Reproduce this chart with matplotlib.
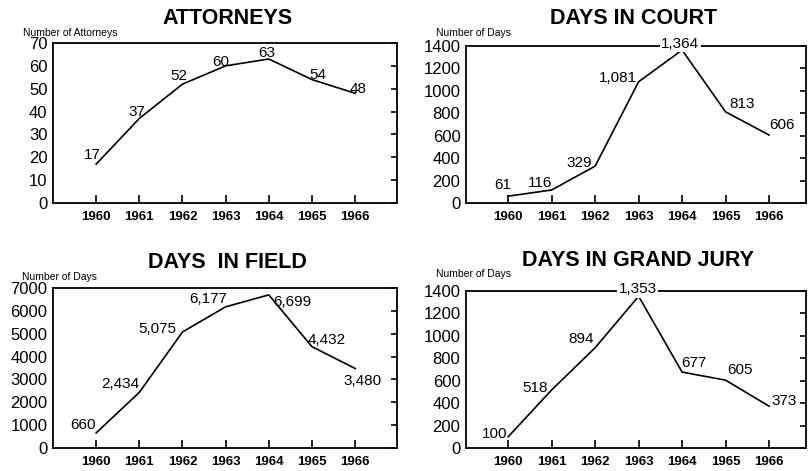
import matplotlib
matplotlib.use("Agg")
import matplotlib.pyplot as plt

plt.rcParams['font.family'] = ['Liberation Sans', 'DejaVu Sans']

years = [1960, 1961, 1962, 1963, 1964, 1965, 1966]

attorneys = [17, 37, 52, 60, 63, 54, 48]
days_court = [61, 116, 329, 1081, 1364, 813, 606]
days_field = [660, 2434, 5075, 6177, 6699, 4432, 3480]
days_jury = [100, 518, 894, 1353, 677, 605, 373]

attorney_ticks = [0, 10, 20, 30, 40, 50, 60, 70]
court_ticks = [0, 200, 400, 600, 800, 1000, 1200, 1400]
field_ticks = [0, 1000, 2000, 3000, 4000, 5000, 6000, 7000]
jury_ticks = [0, 200, 400, 600, 800, 1000, 1200, 1400]

W, H = 808, 471
fig = plt.figure(figsize=(W / 100, H / 100), dpi=100)
fig.patch.set_facecolor('white')


def px_axes(left, top, right, bottom):
    return fig.add_axes([left / W, 1 - bottom / H, (right - left) / W, (bottom - top) / H])


def panel(ax, values, yticks, xlim, offsets, boxed=None):
    ax.plot(years, values, color='black', lw=1.2, solid_joinstyle='miter')
    ax.set_xlim(*xlim)
    ax.set_ylim(yticks[0], yticks[-1])
    ax.set_xticks(years)
    ax.set_xticklabels([str(y) for y in years], fontsize=9.5, fontweight='bold')
    ax.set_yticks(yticks)
    ax.set_yticklabels([str(t) for t in yticks], fontsize=12)
    ax.tick_params(axis='x', direction='in', length=6, width=1.2, pad=6)
    ax.tick_params(axis='y', left=False, right=True, direction='in', length=4,
                   width=1.2, pad=4)
    for s in ax.spines.values():
        s.set_linewidth(1.3)
    for i, (x, v) in enumerate(zip(years, values)):
        dx, dy = offsets[i]
        kw = {}
        if boxed == i:
            kw['bbox'] = dict(facecolor='white', edgecolor='none', pad=1)
        ax.annotate(f"{v:,}", (x, v), xytext=(dx, dy), textcoords='offset pixels',
                    ha='center', va='center', fontsize=11, annotation_clip=False,
                    zorder=5, **kw)


ax1 = px_axes(53, 43, 397, 203)
panel(ax1, attorneys, attorney_ticks, (1959.0, 1966.97),
      [(-4, 9), (-2, 6), (-4, 8), (-5, 4), (-2, 6), (6, 5), (3, 4)])

ax2 = px_axes(466, 46, 806, 203)
panel(ax2, days_court, court_ticks, (1959.03, 1966.85),
      [(-5, 11), (-12, 7), (-16, 3), (-21, 4), (-2, 6), (17, 8), (13, 10)], boxed=4)

ax3 = px_axes(53, 288, 397, 448)
panel(ax3, days_field, field_ticks, (1959.0, 1966.97),
      [(-13, 8), (-19, 8), (-25, 3), (-17, 8), (24, -7), (15, 7), (7, -13)])

ax4 = px_axes(466, 291, 806, 448)
panel(ax4, days_jury, jury_ticks, (1959.03, 1966.85),
      [(-14, 3), (-17, 2), (-14, 9), (-1, 7), (12, 9), (14, 10), (15, 5)], boxed=3)

# titles and axis captions, placed in pixel coordinates
titles = [("ATTORNEYS", 228, 18), ("DAYS IN COURT", 634, 19),
          ("DAYS  IN FIELD", 227, 262), ("DAYS IN GRAND JURY", 638, 260)]
for txt, x, y in titles:
    fig.text(x / W, 1 - y / H, txt, ha='center', va='center',
             fontsize=15.5, fontweight='bold')

captions = [("Number of Attorneys", 23, 33), ("Number of Days", 436, 33),
            ("Number of Days", 22, 277), ("Number of Days", 436, 274)]
for txt, x, y in captions:
    fig.text(x / W, 1 - y / H, txt, ha='left', va='center', fontsize=7.5)

fig.savefig("out.png", dpi=100)
